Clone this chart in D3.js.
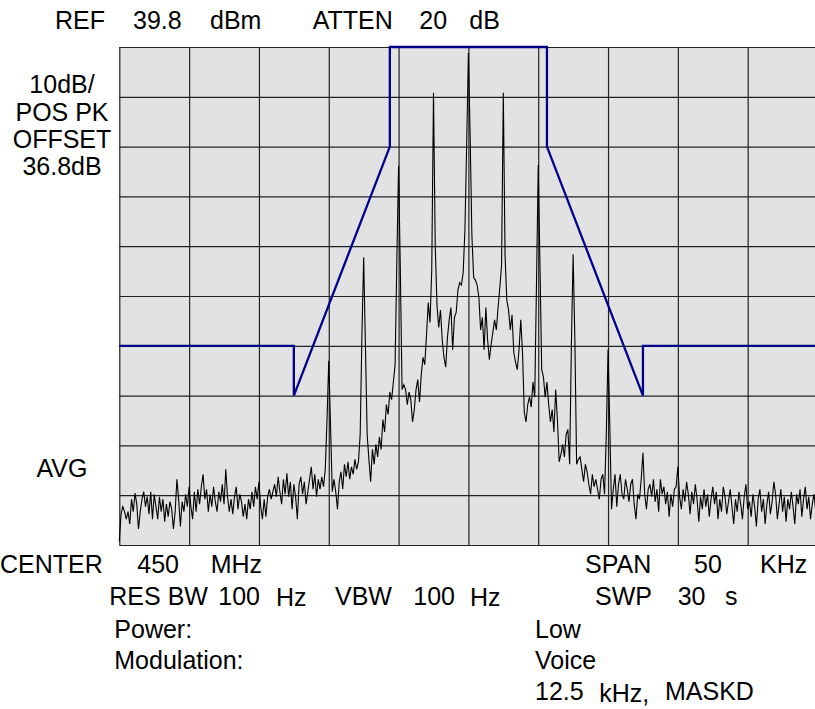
<!DOCTYPE html>
<html>
<script src='https://d3js.org/d3.v7.min.js'></script>
<head>
<title>Spectrum</title>
<style>
body {margin:0; background-color:white;}
svg text {font-family:'Liberation Sans', Arial, sans-serif; font-size:25px; fill:black;}
</style>
</head>
<body>
<svg></svg>

<script>
var width = 815
var height = 709

// frequency offset from centre (kHz), 0.125 kHz per trace point
var startFreq = -25
var stepFreq = 0.125
var gridFreq = [-25,-20,-15,-10,-5,0,5,10,15,20,25]
// level in dBm, 10 dB/div from REF 39.8
var gridLevel = [-60.2,-50.2,-40.2,-30.2,-20.2,-10.2,-0.2,9.8,19.8,29.8,39.8]

// measured trace (dBm)
var trace = [
 -59.5,-54,-52.5,-53.5,-55,-53.5,-56,-51,-53.5,-49.8,
 -52,-57,-53.5,-51,-49.5,-52.5,-50.5,-54,-49.5,-55,
 -50,-52.5,-55,-50.5,-53.5,-51,-55.5,-52,-54.5,-51.5,
 -53,-57,-53.5,-47,-51,-56.5,-51.5,-53.5,-50,-52.5,
 -48.5,-52.5,-55,-49.5,-53.5,-49,-52,-48.5,-46,-51,
 -49,-53.5,-50,-52.5,-48.5,-51.5,-53.5,-49.5,-51.5,-48,
 -52,-45,-50.5,-53.5,-51,-54,-50.5,-48.5,-53,-50,
 -51.5,-54.5,-52,-55,-51,-53,-49.5,-52.5,-48.5,-51,
 -47.5,-52.5,-55,-51,-54.5,-50.5,-49,-51,-49.5,-48,
 -50.5,-46.5,-49.5,-52,-47,-50,-45.8,-50.5,-47.5,-53,
 -48,-50.5,-55,-48,-46.5,-50,-47.5,-52,-49.5,-47,
 -44.5,-49,-46,-50.5,-47,-49,-46.5,-48.5,-45,-35,
 -23.2,-36,-49.5,-47,-49.5,-53,-47.5,-45.5,-49,-44,
 -46.5,-43.5,-47,-44.5,-46,-43,-45,-43.5,-38,-18,
 -2.4,-20,-38,-43,-47.5,-41,-44,-40,-42.5,-38.5,
 -41,-35,-37.5,-32,-34,-29.5,-31,-27.5,-24,-3,
 15.9,-5,-29,-28,-29,-32,-29.5,-31,-35.5,-33,
 -29,-27,-31.5,-26,-22.5,-24,-18,-11.5,-15.5,-5,
 30.6,0,-12,-16.5,-13,-19,-22.5,-24.5,-18.5,-15,
 -12.5,-21,-14.5,-13.5,-9,-7.5,-8,-5.5,3,20,
 38.6,22,2,-6.5,-7,-8,-10.5,-17,-14.5,-21,
 -12.5,-19,-23,-20,-17.5,-15,-17,-12.5,-8.5,-4,
 30.6,-2,-11,-13,-17,-14,-21.5,-23.5,-25,-21,
 -15,-21.5,-33.5,-35.5,-32,-30.5,-32.5,-27.5,-30.5,-8,
 16.1,-4,-25,-26.5,-30.5,-27.5,-32,-35.5,-33,-37.5,
 -29,-35,-43.5,-42,-40,-42.5,-38,-37,-44,-20,
 -1.8,-19,-44,-43,-42.5,-45,-47.5,-44,-45.5,-48,
 -50,-46,-48.5,-47,-49,-51,-47,-46,-50,-38,
 -21,-36,-53,-49,-46,-52.5,-48,-46,-50,-51,
 -47,-49,-51.5,-48,-47,-52,-55,-50,-51,-47,
 -41.7,-50,-53,-49,-48,-50.5,-47,-51.5,-49,-53.5,
 -47,-50,-48.5,-52,-49.5,-54.5,-50,-52.5,-49,-48.5,
 -44.5,-50.5,-53,-49,-51.5,-47.5,-50,-54,-49.5,-52,
 -48,-51,-55.5,-50.5,-53,-49,-52.5,-50,-54.5,-51,
 -48.5,-52,-49.5,-55,-51,-53.5,-48.5,-50.5,-54,-51.5,
 -49,-52.5,-56,-51,-53.5,-49.5,-52,-55,-50.5,-48,
 -53,-51.5,-54.5,-50,-52.5,-56.5,-51,-49,-53.5,-51,
 -56,-52,-49.5,-54,-51.5,-47.5,-50,-55,-52,-49,
 -53.5,-50.5,-55.5,-51,-53,-49.5,-52.5,-56,-50,-52,
 -49,-54.5,-51,-48.5,-53,-50.5,-55,-52,-50,-53.5,
 -51]

// emission mask D, 12.5 kHz channel
var maskFreq = [-25,-12.5,-12.5,-5.625,-5.625,5.625,5.625,12.5,12.5,25]
var maskLevel = [-20.2,-20.2,-30.2,19.8,39.8,39.8,19.8,-30.2,-20.2,-20.2]

var svg = d3.select('svg')
  .attr('width',width)
  .attr('height',height)

var x = d3.scaleLinear().domain([-25,25]).range([119.3,817.5])
var y = d3.scaleLinear().domain([-60.2,39.8]).range([545,47])

//plot background
svg.append('rect')
  .attr('x',x(-25))
  .attr('y',y(39.8))
  .attr('width',x(25)-x(-25))
  .attr('height',y(-60.2)-y(39.8))
  .attr('fill','#e2e2e2')

//vertical grid
svg.append('g')
  .attr('transform','translate(0,'+y(-60.2)+')')
  .call(d3.axisBottom(x).tickValues(gridFreq).tickSize(-(y(-60.2)-y(39.8))).tickFormat(''))
  .call(function(g){g.select('.domain').remove()})
  .selectAll('line').attr('stroke','#222').attr('stroke-width',1.2)

//horizontal grid
svg.append('g')
  .attr('transform','translate('+x(-25)+',0)')
  .call(d3.axisLeft(y).tickValues(gridLevel).tickSize(-(x(25)-x(-25))).tickFormat(''))
  .call(function(g){g.select('.domain').remove()})
  .selectAll('line').attr('stroke','#222').attr('stroke-width',1.2)

//mask line
var mask = maskFreq.map(function(f,i){return [f,maskLevel[i]]})
svg.append('path')
  .datum(mask)
  .attr('fill','none')
  .attr('stroke','#00008b')
  .attr('stroke-width',2.3)
  .attr('d',d3.line().x(function(d){return x(d[0])}).y(function(d){return y(d[1])}))

//spectrum trace
svg.append('path')
  .datum(trace)
  .attr('fill','none')
  .attr('stroke','black')
  .attr('stroke-width',1.1)
  .attr('d',d3.line().x(function(d,i){return x(startFreq+i*stepFreq)}).y(function(d){return y(d)}))

//header text
var headerLabels = [['REF',55],['39.8',133],['dBm',210],['ATTEN',312.7],['20',419.3],['dB',469.3]]
headerLabels.forEach(function(t){
  svg.append('text').attr('x',t[1]).attr('y',29).text(t[0])
})

//left side labels
var sideLabels = [['10dB/',93],['POS PK',121],['OFFSET',148],['36.8dB',175],['AVG',476.7]]
sideLabels.forEach(function(t){
  svg.append('text').attr('text-anchor','middle').attr('x',62).attr('y',t[1]).text(t[0])
})

//bottom labels
var bottomLabels = [
  ['CENTER',0,573],['450',137.3,573],['MHz',210.7,573],['SPAN',585,573],['50',694,573],['KHz',760,573],
  ['RES BW',109.3,605],['100',218.3,605],['Hz',276,606],['VBW',335,605],['100',413.3,605],['Hz',470,606],
  ['SWP',595,605],['30',677.7,605],['s',725,605],
  ['Power:',114.3,638],['Low',535,638],
  ['Modulation:',114.3,669],['Voice',535,669],
  ['12.5',535,700],['kHz,',599.3,702],['MASKD',665,700]]
bottomLabels.forEach(function(t){
  svg.append('text').attr('x',t[1]).attr('y',t[2]).text(t[0])
})
</script>
</body>
</html>
